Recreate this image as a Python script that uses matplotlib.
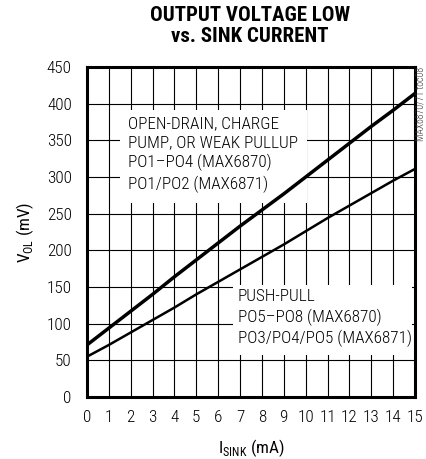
import matplotlib
matplotlib.use("Agg")
import matplotlib.pyplot as plt
from matplotlib.patches import Rectangle

plt.rcParams['font.family'] = ['Roboto Condensed', 'DejaVu Sans']
plt.rcParams['font.weight'] = 300
plt.rcParams['mathtext.fontset'] = 'custom'
plt.rcParams['mathtext.rm'] = 'Roboto Condensed:light'

# data
sink_current = [0, 1, 2, 3, 4, 5, 6, 7, 8, 9, 10, 11, 12, 13, 14, 15]
vol_open_drain = [71, 94, 117, 140, 164, 187, 210, 233, 255, 277, 300, 323, 346, 369, 391, 414]
vol_push_pull = [55, 71, 88, 105, 122, 140, 157, 174, 191, 208, 226, 244, 261, 278, 295, 311]

x_ticks = list(range(0, 16))
y_ticks = list(range(0, 451, 50))

label_open_drain = "OPEN-DRAIN, CHARGE\nPUMP, OR WEAK PULLUP\nPO1\u2013PO4 (MAX6870)\nPO1/PO2 (MAX6871)"
label_push_pull = "PUSH-PULL\nPO5\u2013PO8 (MAX6870)\nPO3/PO4/PO5 (MAX6871)"

FS = 12.3

W, H = 426, 459
fig = plt.figure(figsize=(W / 100, H / 100), dpi=100)
ax = fig.add_axes([87 / W, 1 - 397 / H, (415 - 87) / W, (397 - 67) / H])

ax.plot(sink_current, vol_open_drain, color='black', linewidth=2.5, zorder=3, solid_capstyle='butt')
ax.plot(sink_current, vol_push_pull, color='black', linewidth=1.8, zorder=3, solid_capstyle='butt')

ax.set_xlim(0, 15)
ax.set_ylim(0, 450)
ax.set_xticks(x_ticks)
ax.set_yticks(y_ticks)
ax.tick_params(axis='both', length=0, labelsize=FS)
ax.tick_params(axis='x', pad=9)
ax.tick_params(axis='y', pad=11)

ax.set_axisbelow(True)
ax.grid(color='black', linewidth=0.8)
for s in ax.spines.values():
    s.set_linewidth(2.2)
    s.set_zorder(5)

# white boxes behind the labels
ax.add_patch(Rectangle((1.5, 265), 8.55, 126, facecolor='white', edgecolor='none', zorder=1))
ax.add_patch(Rectangle((6.68, 57), 8.2, 96, facecolor='white', edgecolor='none', zorder=1))

ax.text(1.87, 383, label_open_drain, ha='left', va='top', fontsize=FS, linespacing=1.32, zorder=4)
ax.text(6.9, 147, label_push_pull, ha='left', va='top', fontsize=FS, linespacing=1.32, zorder=4)

ax.set_ylabel(r"V$_\mathregular{OL}$ (mV)", fontsize=FS, labelpad=8)
ax.set_xlabel(r"I$_\mathregular{SINK}$ (mA)", fontsize=FS, labelpad=9)

fig.text(250 / W, 1 - 6 / H, "OUTPUT VOLTAGE LOW\nvs. SINK CURRENT", ha='center', va='top',
         fontsize=15, fontweight='bold', linespacing=1.15)
fig.text(420.5 / W, 1 - 67 / H, "MAX6870/71 toc08", rotation=90, ha='center', va='top',
         fontsize=7, color='#333333')

fig.savefig("out.png", dpi=100)
